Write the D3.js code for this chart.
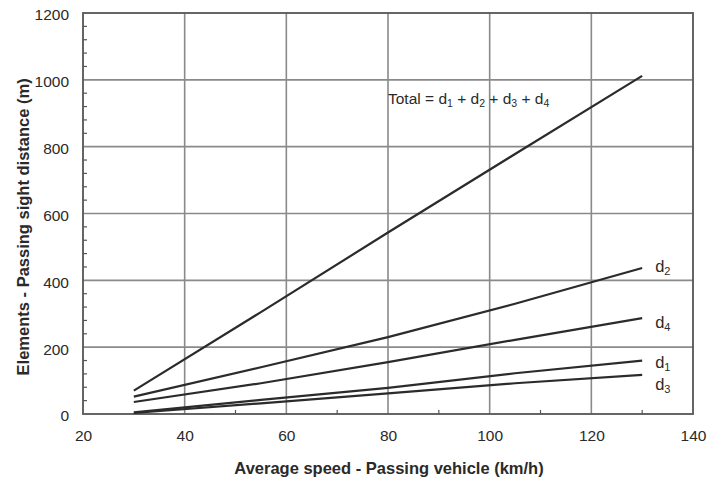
<!DOCTYPE html>
<html>
<head>
<meta charset="utf-8">
<script src="https://cdn.jsdelivr.net/npm/d3@7/dist/d3.min.js"></script>
<style>
  body { margin: 0; background: #fff; }
  text { font-family: "Liberation Sans", Arial, sans-serif; fill: #2a2a2a; }
</style>
</head>
<body>
<div id="chart"></div>
<script>
// speeds (km/h) at which each curve was read
var speeds = [30, 55, 80, 105, 130];
// element distances (m)
var totalDist = [70, 305, 543, 778, 1012];
var d2Dist = [52, 140, 230, 330, 437];
var d4Dist = [36, 92, 155, 222, 287];
var d1Dist = [5, 42, 78, 122, 160];
var d3Dist = [3, 32, 62, 92, 117];

var xTicks = [20, 40, 60, 80, 100, 120, 140];
var yTicks = [0, 200, 400, 600, 800, 1000, 1200];
var xMinor = [50, 70, 90, 110, 130];

var series = [
  {name: "d2", sub: "2", values: d2Dist},
  {name: "d4", sub: "4", values: d4Dist},
  {name: "d1", sub: "1", values: d1Dist},
  {name: "d3", sub: "3", values: d3Dist},
  {name: "total", sub: null, values: totalDist}
];

var W = 710, H = 479;
var margin = {top: 13, right: 17, bottom: 65, left: 83};
var width = W - margin.left - margin.right,
    height = H - margin.top - margin.bottom;

var svg = d3.select("#chart").append("svg")
    .attr("width", W)
    .attr("height", H);

var g = svg.append("g")
    .attr("transform", "translate(" + margin.left + "," + margin.top + ")");

var x = d3.scaleLinear().domain([20, 140]).range([0, width]);
var y = d3.scaleLinear().domain([0, 1200]).range([height, 0]);

// grid
g.selectAll(".vgrid").data(xTicks.slice(1, -1)).enter().append("line")
    .attr("x1", function(d) { return x(d); })
    .attr("x2", function(d) { return x(d); })
    .attr("y1", 0).attr("y2", height)
    .attr("stroke", "#8a8a8a").attr("stroke-width", 1.6);

g.selectAll(".hgrid").data(yTicks.slice(1, -1)).enter().append("line")
    .attr("y1", function(d) { return y(d); })
    .attr("y2", function(d) { return y(d); })
    .attr("x1", 0).attr("x2", width)
    .attr("stroke", "#8a8a8a").attr("stroke-width", 1.6);

// minor ticks inside the frame
var yMinor = d3.range(0, 1200, 40).filter(function(d) { return d % 200 !== 0; });
g.selectAll(".ymin").data(yMinor).enter().append("line")
    .attr("x1", 0).attr("x2", 4)
    .attr("y1", function(d) { return y(d); })
    .attr("y2", function(d) { return y(d); })
    .attr("stroke", "#555").attr("stroke-width", 1.2);

g.selectAll(".xmin").data(xMinor).enter().append("line")
    .attr("x1", function(d) { return x(d); })
    .attr("x2", function(d) { return x(d); })
    .attr("y1", height).attr("y2", height - 4)
    .attr("stroke", "#555").attr("stroke-width", 1.2);

// frame
g.append("rect")
    .attr("width", width).attr("height", height)
    .attr("fill", "none").attr("stroke", "#555").attr("stroke-width", 1.8);

// axes (labels only)
var xAxis = g.append("g")
    .attr("transform", "translate(0," + height + ")")
    .call(d3.axisBottom(x).tickValues(xTicks).tickSize(0).tickPadding(16).tickFormat(d3.format("d")));
var yAxis = g.append("g")
    .call(d3.axisLeft(y).tickValues(yTicks).tickSize(0).tickPadding(14).tickFormat(d3.format("d")));
[xAxis, yAxis].forEach(function(a) {
  a.select(".domain").remove();
  a.selectAll("text")
    .attr("font-family", "Liberation Sans, Arial, sans-serif")
    .attr("font-size", 15.5)
    .attr("fill", "#333");
});
yAxis.selectAll("text").attr("dy", "0.45em");

// lines
var line = d3.line()
    .x(function(d, i) { return x(speeds[i]); })
    .y(function(d) { return y(d); });

g.selectAll(".series").data(series).enter().append("path")
    .attr("d", function(s) { return line(s.values); })
    .attr("fill", "none")
    .attr("stroke", "#2b2b2b")
    .attr("stroke-width", 2.2);

// curve labels
var labelDy = {d2: 4, d4: 10, d1: 7, d3: 15};
series.filter(function(s) { return s.sub; }).forEach(function(s) {
  var last = s.values[s.values.length - 1];
  var t = g.append("text")
      .attr("x", x(speeds[speeds.length - 1]) + 13)
      .attr("y", y(last) + labelDy[s.name])
      .attr("font-size", 16.5);
  t.append("tspan").text("d");
  t.append("tspan").attr("font-size", 11).attr("dy", 3).text(s.sub);
});

// total label
var tl = g.append("text")
    .attr("x", x(80))
    .attr("y", y(928))
    .attr("font-size", 15.5);
tl.append("tspan").text("Total = d");
["1", "2", "3", "4"].forEach(function(n, i) {
  tl.append("tspan").attr("font-size", 10.5).attr("dy", 3).text(n);
  if (i < 3) tl.append("tspan").attr("dy", -3).text(" + d");
});

// axis titles
svg.append("text")
    .attr("x", 389)
    .attr("y", 474)
    .attr("text-anchor", "middle")
    .attr("font-size", 16.5)
    .attr("font-weight", "bold")
    .text("Average speed - Passing vehicle (km/h)");

svg.append("text")
    .attr("transform", "translate(29," + (margin.top + y(560)) + ") rotate(-90)")
    .attr("text-anchor", "middle")
    .attr("font-size", 16.5)
    .attr("font-weight", "bold")
    .text("Elements - Passing sight distance (m)");
</script>
</body>
</html>
